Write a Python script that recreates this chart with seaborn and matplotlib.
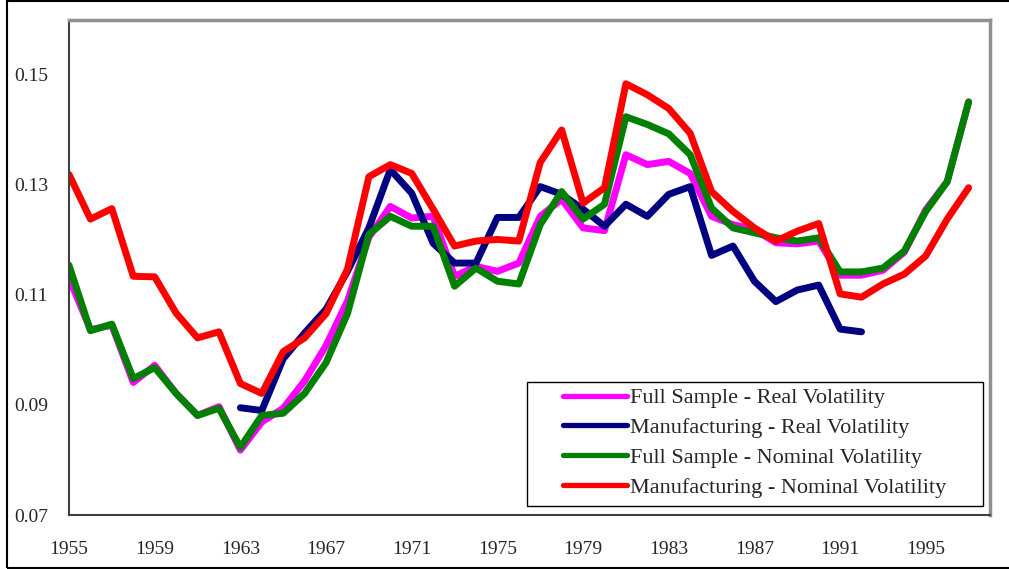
import matplotlib
matplotlib.use("Agg")
import matplotlib.pyplot as plt
import seaborn as sns
import pandas as pd
import numpy as np
from matplotlib.patches import Rectangle

years = list(range(1955, 1998))

full_real = [0.1131, 0.1037, 0.1045, 0.0941, 0.0972, 0.0921, 0.0881, 0.0897, 0.0818, 0.0869,
             0.0894, 0.0944, 0.1008, 0.1089, 0.1205, 0.1261, 0.1240, 0.1243, 0.1134, 0.1152,
             0.1143, 0.1158, 0.1243, 0.1274, 0.1222, 0.1217, 0.1355, 0.1337, 0.1343, 0.1321,
             0.1243, 0.1228, 0.1219, 0.1195, 0.1193, 0.1198, 0.1136, 0.1136, 0.1145, 0.1178,
             0.1255, 0.1306, 0.1451]

manuf_real = [np.nan] * 8 + [
             0.0895, 0.0890, 0.0984, 0.1031, 0.1074, 0.1143, 0.1222, 0.1328, 0.1285, 0.1194,
             0.1158, 0.1158, 0.1241, 0.1241, 0.1297, 0.1283, 0.1256, 0.1225, 0.1265, 0.1243,
             0.1283, 0.1297, 0.1172, 0.1189, 0.1125, 0.1088, 0.1109, 0.1118, 0.1038, 0.1033] + [np.nan] * 5

full_nominal = [0.1154, 0.1035, 0.1047, 0.0948, 0.0968, 0.0921, 0.0881, 0.0894, 0.0823, 0.0881,
                0.0885, 0.0921, 0.0977, 0.1066, 0.1210, 0.1243, 0.1225, 0.1225, 0.1116, 0.1149,
                0.1125, 0.1120, 0.1228, 0.1288, 0.1238, 0.1265, 0.1424, 0.1410, 0.1393, 0.1355,
                0.1258, 0.1222, 0.1213, 0.1204, 0.1198, 0.1204, 0.1142, 0.1142, 0.1149, 0.1180,
                0.1252, 0.1306, 0.1451]

manuf_nominal = [0.1319, 0.1238, 0.1257, 0.1134, 0.1133, 0.1067, 0.1022, 0.1033, 0.0939, 0.0921,
                 0.0997, 0.1022, 0.1066, 0.1147, 0.1315, 0.1337, 0.1321, 0.1256, 0.1189, 0.1198,
                 0.1201, 0.1198, 0.1341, 0.1400, 0.1267, 0.1295, 0.1484, 0.1464, 0.1439, 0.1394,
                 0.1288, 0.1252, 0.1222, 0.1198, 0.1216, 0.1230, 0.1102, 0.1096, 0.1120, 0.1138,
                 0.1171, 0.1238, 0.1295]

series_names = ["Full Sample - Real Volatility", "Manufacturing - Real Volatility",
                "Full Sample - Nominal Volatility", "Manufacturing - Nominal Volatility"]
colors = ["#ff00ff", "#000080", "#008000", "#ff0000"]

frames = []
for name, vals in zip(series_names, [full_real, manuf_real, full_nominal, manuf_nominal]):
    frames.append(pd.DataFrame({"year": years, "value": vals, "series": name}))
df = pd.concat(frames).dropna()

sns.set_style("white")
plt.rcParams["font.family"] = ["Liberation Serif", "DejaVu Serif"]

fig = plt.figure(figsize=(10.09, 5.69), dpi=100)
ax = fig.add_axes([0.0684, 0.0949, 0.9128, 0.870])

sns.lineplot(data=df, x="year", y="value", hue="series", hue_order=series_names,
             palette=colors, linewidth=5, estimator=None, sort=True, ax=ax)

ax.set_xlim(1955, 1998)
ax.set_ylim(0.07, 0.16)
ax.set_xticks(range(1955, 1998, 4))
ax.set_yticks([0.07, 0.09, 0.11, 0.13, 0.15])
ax.set_yticklabels(["0.07", "0.09", "0.11", "0.13", "0.15"])
ax.tick_params(axis="y", labelsize=14, length=0, pad=15)
ax.tick_params(axis="x", labelsize=14, length=0, pad=19)
ax.set_xlabel("")
ax.set_ylabel("")

for side in ["left", "bottom"]:
    ax.spines[side].set_color("#404040")
    ax.spines[side].set_linewidth(1.5)
for side in ["top", "right"]:
    ax.spines[side].set_color("#909090")
    ax.spines[side].set_linewidth(2.5)

# legend without its own frame; box drawn separately (wide side margins as in the original)
leg = ax.legend(loc="upper left", bbox_to_anchor=(0.5364, 0.257), fontsize=16,
                frameon=False, handlelength=2.9, handletextpad=0.1,
                labelspacing=0.42, borderpad=0, borderaxespad=0)
for h in leg.get_lines():
    h.set_linewidth(3.8)
ax.add_patch(Rectangle((0.4973, 0.0182), 0.4951, 0.2505, transform=ax.transAxes,
                       fill=False, edgecolor="black", linewidth=1, zorder=5))

fig.patches.append(Rectangle((7 / 1009, 1 / 569), 1.1, 567 / 569, transform=fig.transFigure,
                             fill=False, edgecolor="black", linewidth=1.5))

fig.savefig("out.png", dpi=100)
